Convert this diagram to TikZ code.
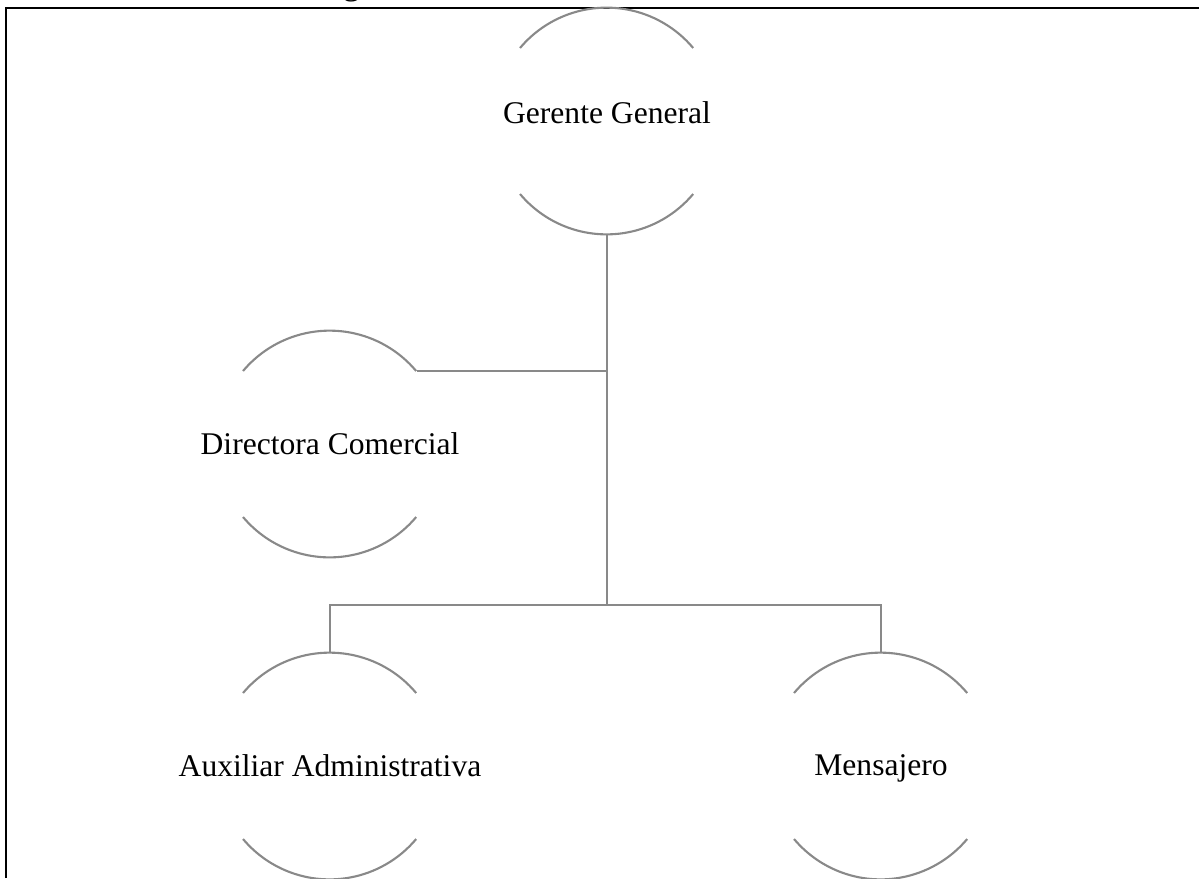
\documentclass[tikz,border=0pt]{standalone}
\usepackage{fontspec}
\setmainfont{Liberation Serif}
\definecolor{gris}{RGB}{137,137,137}
\tikzset{
  puesto/.style={circle, minimum size=85.9pt, inner sep=0pt},
  texto/.style={anchor=base, inner sep=0pt},
  conector/.style={gris, line width=0.8pt},
  arco/.style={gris, line width=0.8pt}
}
\newcommand{\arcos}[1]{%
  \draw[arco] (#1.140) arc[start angle=140, end angle=40, radius=42.95pt];
  \draw[arco] (#1.220) arc[start angle=220, end angle=320, radius=42.95pt];}
\begin{document}
\begin{tikzpicture}[x=0.38pt, y=-0.38pt, font=\fontsize{12pt}{14pt}\selectfont]
			\useasboundingbox (0,0) rectangle (1199,878);
			\begin{scope}
				\clip (0,0) rectangle (1199,878);
				\node[anchor=base west, inner sep=0pt, font=\fontsize{13.3pt}{15pt}\selectfont] (titulo) at (0,-6) {Gráfico 1. Estructura Organizacional};
			\end{scope}
			\draw[line width=1pt] (6,878) -- (6,8) -- (1199,8);
			\node[puesto] (gg) at (607,121) {};
			\node[puesto] (dc) at (330,444) {};
			\node[puesto] (aa) at (330,766) {};
			\node[puesto] (me) at (881,766) {};
			\node[texto] (ggt) at ([yshift=-0.8pt]gg.center) {Gerente General};
			\node[texto] (dct) at ([yshift=-4.1pt]dc.center) {Directora Comercial};
			\node[texto] (aat) at ([yshift=-4.1pt]aa.center) {Auxiliar Administrativa};
			\node[texto] (met) at ([yshift=-3.5pt]me.center) {Mensajero};
			\arcos{gg}
			\arcos{dc}
			\arcos{aa}
			\arcos{me}
			\coordinate (barra) at (607,605);
			\draw[conector] (gg.south) -- (barra);
			\draw[conector] (dc.40) -- (dc.40 -| gg.south);
			\draw[conector] (aa.north) |- (barra) -| (me.north);
		\end{tikzpicture}
\end{document}
